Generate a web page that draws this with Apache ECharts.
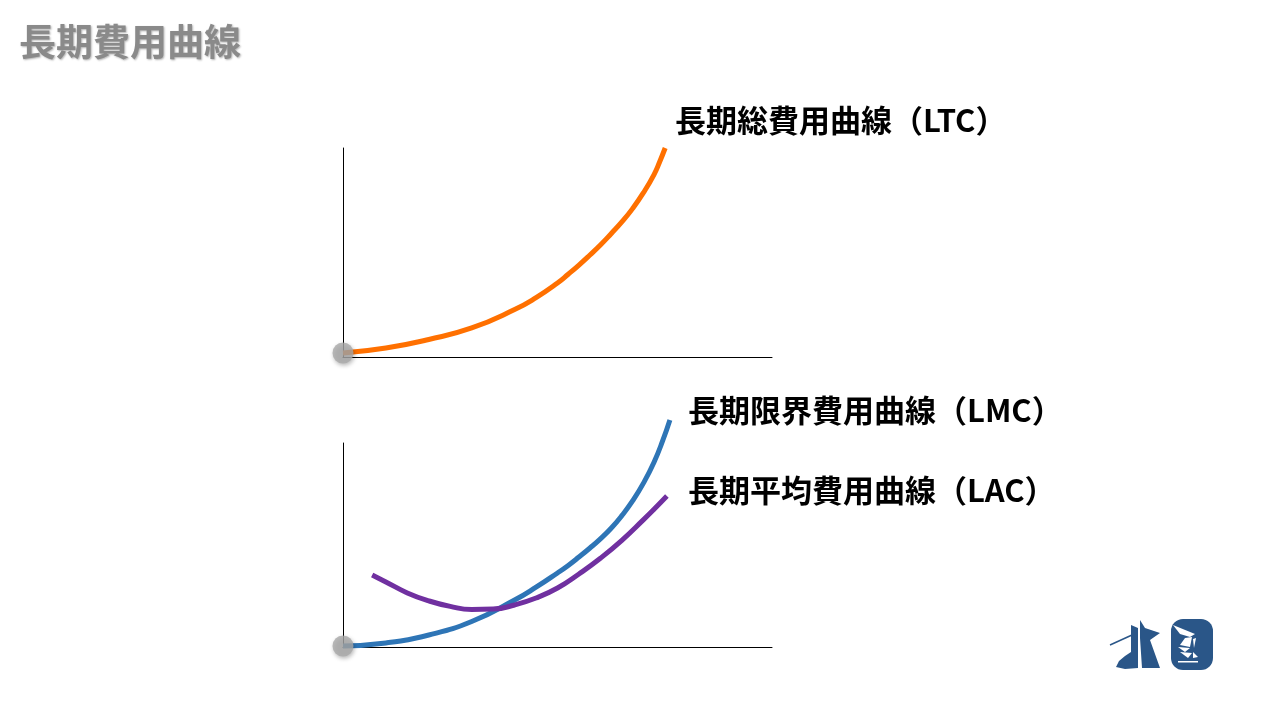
<!DOCTYPE html>
<html>
<head>
<meta charset="utf-8">
<script src="https://cdn.jsdelivr.net/npm/echarts@6/dist/echarts.min.js"></script>
<style>
html,body{margin:0;padding:0;background:#fff;}
#chart{width:1270px;height:708px;}
</style>
</head>
<body>
<div id="chart"></div>
<script>
// Long-run total cost (top panel), x / y in axis units (0-100)
const ltcX = [0, 10, 20, 30, 40, 45, 50, 52.5, 55, 57.5, 60, 62.5, 65, 67.5, 70, 72.5, 73.8, 75.1];
const ltcY = [1.9, 4.3, 8.4, 13.9, 22.7, 28.4, 35.4, 39.6, 44.0, 48.7, 53.6, 59.0, 64.6, 71.0, 78.5, 87.3, 93.3, 100];
// Long-run marginal cost (bottom panel)
const lmcX = [0, 10, 20, 30, 40, 45, 50, 52.5, 55, 57.5, 60, 62.5, 65, 67.5, 70, 72.5, 74.5, 76.2];
const lmcY = [0.5, 2.0, 5.9, 12.5, 23.0, 29.3, 36.3, 40.0, 44.1, 48.4, 53.0, 58.2, 64.4, 71.6, 80.2, 90.6, 101.0, 111.3];
// Long-run average cost (bottom panel)
const lacX = [6.8, 10, 15, 20, 25, 30, 35, 40, 45, 50, 55, 60, 65, 70, 72.5, 75.5];
const lacY = [35.3, 31.9, 26.5, 22.6, 19.9, 18.4, 18.6, 20.6, 24.0, 28.9, 35.8, 43.5, 52.3, 62.3, 67.5, 74.0];
// Origin markers
const originTop = [0, 1.9];
const originBottom = [0, 0.5];

const titleText = '長期費用曲線';
const labelLTC = '長期総費用曲線（LTC）';
const labelLMC = '長期限界費用曲線（LMC）';
const labelLAC = '長期平均費用曲線（LAC）';

const zip = (xs, ys) => xs.map((x, i) => [x, ys[i]]);
const FONT = '"Noto Sans CJK JP", "Noto Sans", sans-serif';

const chart = echarts.init(document.getElementById('chart'));

const axisCommon = {
  type: 'value', min: 0, max: 100,
  axisLine: {show: true, lineStyle: {color: '#000', width: 1}},
  axisTick: {show: false}, axisLabel: {show: false}, splitLine: {show: false}
};

const logoColor = '#2a5688';
const labelFont = 'bold 31px ' + FONT;

chart.setOption({
  animation: false,
  backgroundColor: '#fff',
  title: {
    text: titleText, left: 14, top: 18,
    textStyle: {
      fontFamily: FONT, fontSize: 37, fontWeight: 'bold', color: '#8a8a8a',
      textShadowColor: 'rgba(0,0,0,0.3)', textShadowBlur: 2, textShadowOffsetX: 1, textShadowOffsetY: 1
    }
  },
  grid: [
    {left: 343, top: 148, width: 429, height: 209},
    {left: 343, top: 443, width: 429, height: 204}
  ],
  xAxis: [
    Object.assign({gridIndex: 0}, axisCommon),
    Object.assign({gridIndex: 1}, axisCommon)
  ],
  yAxis: [
    Object.assign({gridIndex: 0}, axisCommon),
    Object.assign({gridIndex: 1}, axisCommon)
  ],
  series: [
    {type: 'line', xAxisIndex: 0, yAxisIndex: 0, data: zip(ltcX, ltcY), smooth: true, showSymbol: false, clip: false,
     lineStyle: {color: '#ff7000', width: 5}},
    {type: 'line', xAxisIndex: 1, yAxisIndex: 1, data: zip(lmcX, lmcY), smooth: true, showSymbol: false, clip: false,
     lineStyle: {color: '#2e75b6', width: 5}},
    {type: 'line', xAxisIndex: 1, yAxisIndex: 1, data: zip(lacX, lacY), smooth: true, showSymbol: false, clip: false,
     lineStyle: {color: '#7030a0', width: 5}},
    {type: 'scatter', xAxisIndex: 0, yAxisIndex: 0, data: [originTop], symbolSize: 21, clip: false, z: 5,
     itemStyle: {color: '#a9a9a9', shadowColor: 'rgba(0,0,0,0.35)', shadowBlur: 4, shadowOffsetX: 1, shadowOffsetY: 2}},
    {type: 'scatter', xAxisIndex: 1, yAxisIndex: 1, data: [originBottom], symbolSize: 21, clip: false, z: 5,
     itemStyle: {color: '#a9a9a9', shadowColor: 'rgba(0,0,0,0.35)', shadowBlur: 4, shadowOffsetX: 1, shadowOffsetY: 2}}
  ],
  graphic: [
    {type: 'text', x: 675, y: 120, style: {text: labelLTC, font: labelFont, fill: '#000', verticalAlign: 'middle', align: 'left'}},
    {type: 'text', x: 688, y: 410, style: {text: labelLMC, font: labelFont, fill: '#000', verticalAlign: 'middle', align: 'left'}},
    {type: 'text', x: 688, y: 490, style: {text: labelLAC, font: labelFont, fill: '#000', verticalAlign: 'middle', align: 'left'}},
    // logo
    {type: 'group', children: [
      {type: 'line', shape: {x1: 1110, y1: 645, x2: 1132, y2: 635}, style: {stroke: logoColor, lineWidth: 1.5}},
      {type: 'polygon', shape: {points: [[1131,625],[1138,628],[1138,668],[1125,669],[1116,667],[1119,661],[1125,656],[1131,652]]}, style: {fill: logoColor}},
      {type: 'polygon', shape: {points: [[1140,620],[1145,628],[1160,633],[1150,640],[1160,668],[1142,668],[1140,638]]}, style: {fill: logoColor}},
      {type: 'rect', shape: {x: 1171, y: 619, width: 42, height: 51, r: 12}, style: {fill: logoColor}},
      {type: 'polygon', shape: {points: [[1173,625],[1195,634],[1190,637],[1180,634]]}, style: {fill: '#fff'}},
      {type: 'polygon', shape: {points: [[1185,638],[1192,637],[1190,647],[1180,645]]}, style: {fill: '#fff'}},
      {type: 'polygon', shape: {points: [[1193,639],[1196,638],[1194,648]]}, style: {fill: '#fff'}},
      {type: 'polygon', shape: {points: [[1178,647],[1190,648],[1185,652]]}, style: {fill: '#fff'}},
      {type: 'polygon', shape: {points: [[1180,652],[1192,653],[1188,658]]}, style: {fill: '#fff'}},
      {type: 'polygon', shape: {points: [[1193,652],[1198,657],[1193,658]]}, style: {fill: '#fff'}},
      {type: 'rect', shape: {x: 1178, y: 661, width: 20, height: 1.5}, style: {fill: '#fff'}}
    ]}
  ]
});
</script>
</body>
</html>
